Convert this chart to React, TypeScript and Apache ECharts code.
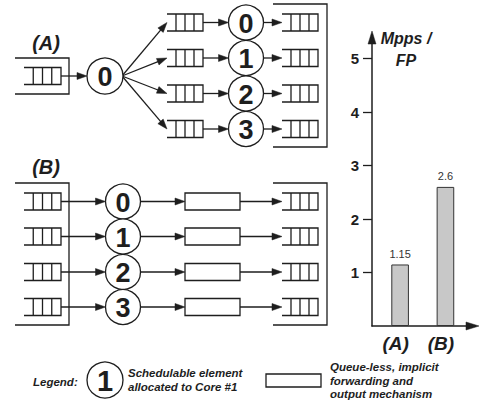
import React, { useEffect, useRef } from 'react';
import * as echarts from 'echarts';

// ---- data ----
const barCategories = ['(A)', '(B)'];
const barValues = [1.15, 2.6];
const yTickValues = [1, 2, 3, 4, 5];
const axisTitleLines = ['Mpps /', 'FP'];
const coreLabels = ['0', '1', '2', '3'];
const sectionLabels = ['(A)', '(B)'];
const dispatcherLabel = '0';
const legendTitle = 'Legend:';
const legendCircleLabel = '1';
const legendCircleText = ['Schedulable element', 'allocated to Core #1'];
const legendRectText = ['Queue-less, implicit', 'forwarding and', 'output mechanism'];

// ---- styling / layout ----
const INK = '#1e1e1e';
const LW = 1.3;
const FAM = '"Liberation Sans", Arial, Helvetica, sans-serif';
const X_MIN = 0.38;
const X_MAX = 2.63;
const AXIS_X = 372;
const AXIS_Y = 326;
const UNIT = 53.5;
const GRID_TOP = 40;
const GRID_RIGHT = 474;

const font = (size: number, weight = 'bold', style = 'normal') =>
  `${style} ${weight} ${size}px ${FAM}`;

function line(x1: number, y1: number, x2: number, y2: number, lw = LW) {
  return { type: 'line', silent: true, shape: { x1, y1, x2, y2 }, style: { stroke: INK, lineWidth: lw } };
}
function poly(points: number[][]) {
  return { type: 'polyline', silent: true, shape: { points }, style: { stroke: INK, lineWidth: LW, fill: null } };
}
function head(x2: number, y2: number, ux: number, uy: number, len: number, w: number, color = INK) {
  const bx = x2 - ux * len, by = y2 - uy * len;
  const px = (-uy * w) / 2, py = (ux * w) / 2;
  return {
    type: 'polygon', silent: true, z: 20,
    shape: { points: [[x2, y2], [bx + px, by + py], [bx - px, by - py]] },
    style: { fill: color, stroke: color, lineWidth: 0.5 },
  };
}
function arrow(x1: number, y1: number, x2: number, y2: number, len = 10, w = 7, lw = LW) {
  const dx = x2 - x1, dy = y2 - y1;
  const d = Math.hypot(dx, dy);
  const ux = dx / d, uy = dy / d;
  const bx = x2 - ux * len, by = y2 - uy * len;
  return [line(x1, y1, bx + ux, by + uy, lw), head(x2, y2, ux, uy, len, w)];
}
function queue(x: number, cy: number, w = 37, h = 17) {
  const t = cy - h / 2, b = cy + h / 2;
  return [
    poly([[x, t], [x + w, t], [x + w, b], [x, b]]),
    line(x + w / 4, t, x + w / 4, b),
    line(x + w / 2, t, x + w / 2, b),
    line(x + (3 * w) / 4, t, x + (3 * w) / 4, b),
  ];
}
function text(x: number, y: number, str: string, f: string, align = 'center') {
  return {
    type: 'text', silent: true, x, y, z: 10,
    style: { text: str, font: f, fill: INK, textAlign: align, textVerticalAlign: 'middle' },
  };
}
function node(cx: number, cy: number, r: number, label: string, fs = 27) {
  return [
    { type: 'circle', silent: true, z: 5, shape: { cx, cy, r }, style: { fill: '#fff', stroke: INK, lineWidth: LW } },
    text(cx, cy + 1, label, font(fs)),
  ];
}
function rect(x: number, y: number, w: number, h: number) {
  return { type: 'rect', silent: true, shape: { x, y, width: w, height: h }, style: { fill: '#fff', stroke: INK, lineWidth: LW } };
}

function buildDiagram() {
  const els: any[] = [];
  // ---- (A) ----
  const rowsA = [22.5, 58, 93.5, 129];
  els.push(text(46, 43, sectionLabels[0], font(20, 'bold', 'italic')));
  els.push(poly([[15, 58], [69, 58], [69, 94], [15, 94]]));
  els.push(...queue(24, 76));
  els.push(...arrow(61, 76, 87, 76));
  els.push(...node(105, 76, 18, dispatcherLabel));
  rowsA.forEach((y, i) => {
    els.push(...arrow(122, 76, 167, y));
    els.push(...queue(167, y, 36));
    els.push(...arrow(203, y, 228.5, y));
    els.push(...node(246, y, 17.5, coreLabels[i]));
    els.push(...arrow(263.5, y, 282, y, 10, 7));
    els.push(...queue(282, y, 36));
  });
  els.push(poly([[273, 4], [327, 4], [327, 147], [273, 147]]));

  // ---- (B) ----
  const rowsB = [201.5, 236.5, 272, 307];
  els.push(text(46, 167, sectionLabels[1], font(20, 'bold', 'italic')));
  els.push(poly([[15, 183], [69, 183], [69, 325], [15, 325]]));
  rowsB.forEach((y, i) => {
    els.push(...queue(24, y));
    els.push(...arrow(61, y, 105.5, y));
    els.push(...node(123, y, 17.5, coreLabels[i]));
    els.push(...arrow(140.5, y, 185, y));
    els.push(rect(185, y - 8.5, 55, 17));
    els.push(...arrow(240, y, 282, y));
    els.push(...queue(282, y, 36));
  });
  els.push(poly([[273, 183], [327, 183], [327, 325], [273, 325]]));

  // ---- legend ----
  els.push(text(33, 382, legendTitle, font(11.5, 'bold', 'italic'), 'left'));
  els.push(...node(105, 380, 18, legendCircleLabel, 29));
  legendCircleText.forEach((s, i) => els.push(text(128, 373 + i * 14, s, font(11.5, 'bold', 'italic'), 'left')));
  els.push(rect(266, 374, 55, 13));
  legendRectText.forEach((s, i) => els.push(text(330, 367 + i * 13.5, s, font(11.5, 'bold', 'italic'), 'left')));

  // ---- bar chart axis title and axis arrowheads ----
  axisTitleLines.forEach((s, i) => els.push(text(406, 38 + i * 22, s, font(16, 'bold', 'italic'))));
  els.push(...arrow(AXIS_X, GRID_TOP + 2, AXIS_X, 31, 13, 8, 1.5));
  els.push(...arrow(GRID_RIGHT - 2, AXIS_Y, 479, AXIS_Y, 13, 8, 1.5));
  return els;
}

export default function App() {
  const ref = useRef<HTMLDivElement>(null);
  useEffect(() => {
    document.body.style.margin = '0';
    const chart = echarts.init(ref.current!, null, { renderer: 'svg' });
    chart.setOption({
      animation: false,
      backgroundColor: '#fff',
      grid: { left: AXIS_X, right: 483 - GRID_RIGHT, top: GRID_TOP, bottom: 402 - AXIS_Y },
      xAxis: {
        type: 'value',
        min: X_MIN,
        max: X_MAX,
        splitLine: { show: false },
        axisTick: { show: false },
        axisLine: { show: true, onZero: false, lineStyle: { color: INK, width: 1.5 } },
        axisLabel: {
          customValues: [1, 2],
          formatter: (v: number) => barCategories[Math.round(v) - 1] ?? '',
          margin: 8,
          padding: [0, 9, 0, 0],
          color: INK,
          fontFamily: FAM,
          fontSize: 19,
          fontWeight: 'bold',
          fontStyle: 'italic',
        },
      },
      yAxis: {
        type: 'value',
        min: 0,
        max: (AXIS_Y - GRID_TOP) / UNIT,
        splitLine: { show: false },
        axisLine: { show: true, onZero: false, lineStyle: { color: INK, width: 1.5 } },
        axisTick: { show: true, length: 9, customValues: yTickValues, lineStyle: { color: INK, width: 1.3 } },
        axisLabel: {
          customValues: yTickValues,
          margin: 13,
          color: INK,
          fontFamily: FAM,
          fontSize: 15,
          fontWeight: 'bold',
        },
      },
      graphic: { elements: buildDiagram() },
      series: [
        {
          type: 'bar',
          data: barValues.map((v, i) => [i + 1, v]),
          barWidth: 17.6,
          itemStyle: { color: '#c8c8c8', borderColor: '#333', borderWidth: 1 },
          label: {
            show: true, position: 'top', distance: 5,
            fontSize: 11, color: '#333', fontFamily: FAM,
            formatter: (p: any) => String(p.value[1]),
          },
        },
      ],
    });
    return () => chart.dispose();
  }, []);
  return <div ref={ref} style={{ width: 483, height: 402 }} />;
}
